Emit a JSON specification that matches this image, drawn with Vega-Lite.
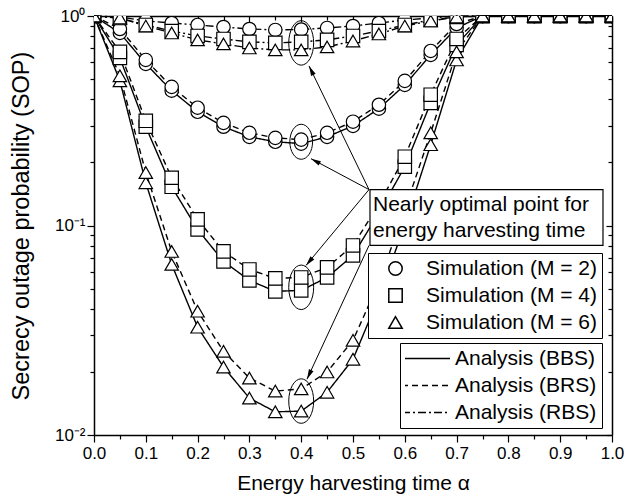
{
"$schema":"https://vega.github.io/schema/vega-lite/v6.json",
"width":518,"height":419,
"autosize":{"type":"none"},
"padding":{"left":94,"top":16,"right":14,"bottom":66},
"background":"white",
"config":{"view":{"stroke":null},"font":"Liberation Sans",
 "axis":{"grid":false,"domainColor":"black","domainWidth":1.5,"tickColor":"black","tickWidth":1.2,"labelColor":"black","titleColor":"black","labelFont":"Liberation Sans","titleFont":"Liberation Sans","titleFontWeight":"normal","labelFontSize":17,"titleFontSize":21,"labelFlush":false,"labelOverlap":false,"labelBound":false},
 "legend":{"labelFont":"Liberation Sans","labelFontSize":21,"labelColor":"black","labelLimit":0}},
"datasets":{
"sop":[
{"a":0,"p":1,"m":"2","s":"BBS"},{"a":0.05,"p":0.830,"m":"2","s":"BBS"},{"a":0.1,"p":0.591,"m":"2","s":"BBS"},{"a":0.15,"p":0.440,"m":"2","s":"BBS"},{"a":0.2,"p":0.349,"m":"2","s":"BBS"},{"a":0.25,"p":0.296,"m":"2","s":"BBS"},{"a":0.3,"p":0.265,"m":"2","s":"BBS"},{"a":0.35,"p":0.251,"m":"2","s":"BBS"},{"a":0.4,"p":0.246,"m":"2","s":"BBS"},{"a":0.45,"p":0.265,"m":"2","s":"BBS"},{"a":0.5,"p":0.299,"m":"2","s":"BBS"},{"a":0.55,"p":0.361,"m":"2","s":"BBS"},{"a":0.6,"p":0.469,"m":"2","s":"BBS"},{"a":0.65,"p":0.652,"m":"2","s":"BBS"},{"a":0.7,"p":0.877,"m":"2","s":"BBS"},{"a":0.75,"p":1,"m":"2","s":"BBS"},{"a":0.8,"p":1,"m":"2","s":"BBS"},{"a":0.85,"p":1,"m":"2","s":"BBS"},{"a":0.9,"p":1,"m":"2","s":"BBS"},{"a":0.95,"p":1,"m":"2","s":"BBS"},{"a":1,"p":1,"m":"2","s":"BBS"},
{"a":0,"p":1,"m":"2","s":"BRS"},{"a":0.05,"p":0.867,"m":"2","s":"BRS"},{"a":0.1,"p":0.617,"m":"2","s":"BRS"},{"a":0.15,"p":0.459,"m":"2","s":"BRS"},{"a":0.2,"p":0.365,"m":"2","s":"BRS"},{"a":0.25,"p":0.309,"m":"2","s":"BRS"},{"a":0.3,"p":0.277,"m":"2","s":"BRS"},{"a":0.35,"p":0.262,"m":"2","s":"BRS"},{"a":0.4,"p":0.257,"m":"2","s":"BRS"},{"a":0.45,"p":0.277,"m":"2","s":"BRS"},{"a":0.5,"p":0.313,"m":"2","s":"BRS"},{"a":0.55,"p":0.377,"m":"2","s":"BRS"},{"a":0.6,"p":0.490,"m":"2","s":"BRS"},{"a":0.65,"p":0.681,"m":"2","s":"BRS"},{"a":0.7,"p":0.916,"m":"2","s":"BRS"},{"a":0.75,"p":1,"m":"2","s":"BRS"},{"a":0.8,"p":1,"m":"2","s":"BRS"},{"a":0.85,"p":1,"m":"2","s":"BRS"},{"a":0.9,"p":1,"m":"2","s":"BRS"},{"a":0.95,"p":1,"m":"2","s":"BRS"},{"a":1,"p":1,"m":"2","s":"BRS"},
{"a":0,"p":1,"m":"2","s":"RBS"},{"a":0.05,"p":0.989,"m":"2","s":"RBS"},{"a":0.1,"p":0.947,"m":"2","s":"RBS"},{"a":0.15,"p":0.926,"m":"2","s":"RBS"},{"a":0.2,"p":0.906,"m":"2","s":"RBS"},{"a":0.25,"p":0.886,"m":"2","s":"RBS"},{"a":0.3,"p":0.867,"m":"2","s":"RBS"},{"a":0.35,"p":0.858,"m":"2","s":"RBS"},{"a":0.4,"p":0.862,"m":"2","s":"RBS"},{"a":0.45,"p":0.877,"m":"2","s":"RBS"},{"a":0.5,"p":0.896,"m":"2","s":"RBS"},{"a":0.55,"p":0.926,"m":"2","s":"RBS"},{"a":0.6,"p":0.957,"m":"2","s":"RBS"},{"a":0.65,"p":0.978,"m":"2","s":"RBS"},{"a":0.7,"p":1,"m":"2","s":"RBS"},{"a":0.75,"p":1,"m":"2","s":"RBS"},{"a":0.8,"p":1,"m":"2","s":"RBS"},{"a":0.85,"p":1,"m":"2","s":"RBS"},{"a":0.9,"p":1,"m":"2","s":"RBS"},{"a":0.95,"p":1,"m":"2","s":"RBS"},{"a":1,"p":1,"m":"2","s":"RBS"},
{"a":0,"p":1,"m":"4","s":"BBS"},{"a":0.05,"p":0.631,"m":"4","s":"BBS"},{"a":0.1,"p":0.296,"m":"4","s":"BBS"},{"a":0.15,"p":0.153,"m":"4","s":"BBS"},{"a":0.2,"p":0.0957,"m":"4","s":"BBS"},{"a":0.25,"p":0.0674,"m":"4","s":"BBS"},{"a":0.3,"p":0.0547,"m":"4","s":"BBS"},{"a":0.35,"p":0.0485,"m":"4","s":"BBS"},{"a":0.4,"p":0.0490,"m":"4","s":"BBS"},{"a":0.45,"p":0.0565,"m":"4","s":"BBS"},{"a":0.5,"p":0.0720,"m":"4","s":"BBS"},{"a":0.55,"p":0.115,"m":"4","s":"BBS"},{"a":0.6,"p":0.191,"m":"4","s":"BBS"},{"a":0.65,"p":0.385,"m":"4","s":"BBS"},{"a":0.7,"p":0.727,"m":"4","s":"BBS"},{"a":0.75,"p":1,"m":"4","s":"BBS"},{"a":0.8,"p":1,"m":"4","s":"BBS"},{"a":0.85,"p":1,"m":"4","s":"BBS"},{"a":0.9,"p":1,"m":"4","s":"BBS"},{"a":0.95,"p":1,"m":"4","s":"BBS"},{"a":1,"p":1,"m":"4","s":"BBS"},
{"a":0,"p":1,"m":"4","s":"BRS"},{"a":0.05,"p":0.674,"m":"4","s":"BRS"},{"a":0.1,"p":0.316,"m":"4","s":"BRS"},{"a":0.15,"p":0.169,"m":"4","s":"BRS"},{"a":0.2,"p":0.107,"m":"4","s":"BRS"},{"a":0.25,"p":0.0752,"m":"4","s":"BRS"},{"a":0.3,"p":0.0617,"m":"4","s":"BRS"},{"a":0.35,"p":0.0559,"m":"4","s":"BRS"},{"a":0.4,"p":0.0565,"m":"4","s":"BRS"},{"a":0.45,"p":0.0631,"m":"4","s":"BRS"},{"a":0.5,"p":0.0803,"m":"4","s":"BRS"},{"a":0.55,"p":0.126,"m":"4","s":"BRS"},{"a":0.6,"p":0.213,"m":"4","s":"BRS"},{"a":0.65,"p":0.421,"m":"4","s":"BRS"},{"a":0.7,"p":0.777,"m":"4","s":"BRS"},{"a":0.75,"p":1,"m":"4","s":"BRS"},{"a":0.8,"p":1,"m":"4","s":"BRS"},{"a":0.85,"p":1,"m":"4","s":"BRS"},{"a":0.9,"p":1,"m":"4","s":"BRS"},{"a":0.95,"p":1,"m":"4","s":"BRS"},{"a":1,"p":1,"m":"4","s":"BRS"},
{"a":0,"p":1,"m":"4","s":"RBS"},{"a":0.05,"p":0.978,"m":"4","s":"RBS"},{"a":0.1,"p":0.906,"m":"4","s":"RBS"},{"a":0.15,"p":0.848,"m":"4","s":"RBS"},{"a":0.2,"p":0.803,"m":"4","s":"RBS"},{"a":0.25,"p":0.777,"m":"4","s":"RBS"},{"a":0.3,"p":0.752,"m":"4","s":"RBS"},{"a":0.35,"p":0.744,"m":"4","s":"RBS"},{"a":0.4,"p":0.752,"m":"4","s":"RBS"},{"a":0.45,"p":0.769,"m":"4","s":"RBS"},{"a":0.5,"p":0.803,"m":"4","s":"RBS"},{"a":0.55,"p":0.848,"m":"4","s":"RBS"},{"a":0.6,"p":0.906,"m":"4","s":"RBS"},{"a":0.65,"p":0.957,"m":"4","s":"RBS"},{"a":0.7,"p":0.989,"m":"4","s":"RBS"},{"a":0.75,"p":1,"m":"4","s":"RBS"},{"a":0.8,"p":1,"m":"4","s":"RBS"},{"a":0.85,"p":1,"m":"4","s":"RBS"},{"a":0.9,"p":1,"m":"4","s":"RBS"},{"a":0.95,"p":1,"m":"4","s":"RBS"},{"a":1,"p":1,"m":"4","s":"RBS"},
{"a":0,"p":1,"m":"6","s":"BBS"},{"a":0.05,"p":0.490,"m":"6","s":"BBS"},{"a":0.1,"p":0.160,"m":"6","s":"BBS"},{"a":0.15,"p":0.0652,"m":"6","s":"BBS"},{"a":0.2,"p":0.0327,"m":"6","s":"BBS"},{"a":0.25,"p":0.0211,"m":"6","s":"BBS"},{"a":0.3,"p":0.0150,"m":"6","s":"BBS"},{"a":0.35,"p":0.0129,"m":"6","s":"BBS"},{"a":0.4,"p":0.0130,"m":"6","s":"BBS"},{"a":0.45,"p":0.0160,"m":"6","s":"BBS"},{"a":0.5,"p":0.0230,"m":"6","s":"BBS"},{"a":0.55,"p":0.0454,"m":"6","s":"BBS"},{"a":0.6,"p":0.101,"m":"6","s":"BBS"},{"a":0.65,"p":0.243,"m":"6","s":"BBS"},{"a":0.7,"p":0.617,"m":"6","s":"BBS"},{"a":0.75,"p":1,"m":"6","s":"BBS"},{"a":0.8,"p":1,"m":"6","s":"BBS"},{"a":0.85,"p":1,"m":"6","s":"BBS"},{"a":0.9,"p":1,"m":"6","s":"BBS"},{"a":0.95,"p":1,"m":"6","s":"BBS"},{"a":1,"p":1,"m":"6","s":"BBS"},
{"a":0,"p":1,"m":"6","s":"BRS"},{"a":0.05,"p":0.518,"m":"6","s":"BRS"},{"a":0.1,"p":0.179,"m":"6","s":"BRS"},{"a":0.15,"p":0.0752,"m":"6","s":"BRS"},{"a":0.2,"p":0.0390,"m":"6","s":"BRS"},{"a":0.25,"p":0.0251,"m":"6","s":"BRS"},{"a":0.3,"p":0.0187,"m":"6","s":"BRS"},{"a":0.35,"p":0.0162,"m":"6","s":"BRS"},{"a":0.4,"p":0.0166,"m":"6","s":"BRS"},{"a":0.45,"p":0.0200,"m":"6","s":"BRS"},{"a":0.5,"p":0.0283,"m":"6","s":"BRS"},{"a":0.55,"p":0.0535,"m":"6","s":"BRS"},{"a":0.6,"p":0.119,"m":"6","s":"BRS"},{"a":0.65,"p":0.277,"m":"6","s":"BRS"},{"a":0.7,"p":0.674,"m":"6","s":"BRS"},{"a":0.75,"p":1,"m":"6","s":"BRS"},{"a":0.8,"p":1,"m":"6","s":"BRS"},{"a":0.85,"p":1,"m":"6","s":"BRS"},{"a":0.9,"p":1,"m":"6","s":"BRS"},{"a":0.95,"p":1,"m":"6","s":"BRS"},{"a":1,"p":1,"m":"6","s":"BRS"},
{"a":0,"p":1,"m":"6","s":"RBS"},{"a":0.05,"p":0.978,"m":"6","s":"RBS"},{"a":0.1,"p":0.896,"m":"6","s":"RBS"},{"a":0.15,"p":0.830,"m":"6","s":"RBS"},{"a":0.2,"p":0.769,"m":"6","s":"RBS"},{"a":0.25,"p":0.736,"m":"6","s":"RBS"},{"a":0.3,"p":0.704,"m":"6","s":"RBS"},{"a":0.35,"p":0.689,"m":"6","s":"RBS"},{"a":0.4,"p":0.689,"m":"6","s":"RBS"},{"a":0.45,"p":0.712,"m":"6","s":"RBS"},{"a":0.5,"p":0.760,"m":"6","s":"RBS"},{"a":0.55,"p":0.821,"m":"6","s":"RBS"},{"a":0.6,"p":0.896,"m":"6","s":"RBS"},{"a":0.65,"p":0.947,"m":"6","s":"RBS"},{"a":0.7,"p":0.989,"m":"6","s":"RBS"},{"a":0.75,"p":1,"m":"6","s":"RBS"},{"a":0.8,"p":1,"m":"6","s":"RBS"},{"a":0.85,"p":1,"m":"6","s":"RBS"},{"a":0.9,"p":1,"m":"6","s":"RBS"},{"a":0.95,"p":1,"m":"6","s":"RBS"},{"a":1,"p":1,"m":"6","s":"RBS"}
]},
"layer":[
{"data":{"name":"sop"},
 "mark":{"type":"line","color":"black","strokeWidth":1.4},
 "encoding":{
  "x":{"field":"a","type":"quantitative","scale":{"domain":[0,1],"nice":false},
   "axis":{"orient":"bottom","values":[0,0.05,0.1,0.15,0.2,0.25,0.3,0.35,0.4,0.45,0.5,0.55,0.6,0.65,0.7,0.75,0.8,0.85,0.9,0.95,1],
    "labelExpr":"abs(datum.value*10-round(datum.value*10))<0.001 ? format(datum.value,'.1f') : ''",
    "tickSize":{"condition":{"test":"abs(datum.value*10-round(datum.value*10))<0.001","value":7},"value":4},
    "labelPadding":3,"title":"Energy harvesting time α","titleX":259,"titleY":48,"titleAlign":"center","titleBaseline":"middle"}},
  "y":{"field":"p","type":"quantitative","scale":{"type":"log","domain":[0.01,1],"nice":false},
   "axis":{"orient":"left","values":[0.01,0.02,0.03,0.04,0.05,0.06,0.07,0.08,0.09,0.1,0.2,0.3,0.4,0.5,0.6,0.7,0.8,0.9,1],
    "labelExpr":"datum.value==1 ? '10⁰' : datum.value==0.1 ? '10⁻¹' : datum.value==0.01 ? '10⁻²' : ''",
    "tickSize":{"condition":{"test":"datum.value==1||datum.value==0.1||datum.value==0.01","value":7},"value":4},
    "labelPadding":2,"title":"Secrecy outage probability (SOP)","titleFontSize":23.5,"titleX":-73,"titleY":209.5,"titleAngle":270,"titleAlign":"center","titleBaseline":"middle"}},
  "detail":[{"field":"m"},{"field":"s"}],
  "strokeDash":{"field":"s","type":"nominal","scale":{"domain":["BBS","BRS","RBS"],"range":[[1,0],[6,4],[8,3,2,3]]},
   "legend":{"orient":"none","legendX":306,"legendY":327,"title":null,"padding":5,"symbolType":"stroke","symbolSize":2304,"symbolStrokeWidth":1.5,"symbolStrokeColor":"black","symbolOffset":-4,"labelOffset":4,"rowPadding":5,"clipHeight":21,"strokeColor":"black","fillColor":"white","labelExpr":"'Analysis (' + datum.label + ')'"}}
 }},
{"data":{"name":"sop"},
 "mark":{"type":"point","filled":true,"fill":"white","stroke":"black","strokeWidth":1.2,"opacity":1,"size":180,"clip":true},
 "encoding":{
  "x":{"field":"a","type":"quantitative","axis":{"orient":"top","values":[0,0.05,0.1,0.15,0.2,0.25,0.3,0.35,0.4,0.45,0.5,0.55,0.6,0.65,0.7,0.75,0.8,0.85,0.9,0.95,1],"labels":false,"title":null,
    "tickSize":{"condition":{"test":"abs(datum.value*10-round(datum.value*10))<0.001","value":-6},"value":-4}}},
  "y":{"field":"p","type":"quantitative","axis":{"orient":"right","values":[0.01,0.02,0.03,0.04,0.05,0.06,0.07,0.08,0.09,0.1,0.2,0.3,0.4,0.5,0.6,0.7,0.8,0.9,1],"labels":false,"title":null,
    "tickSize":{"condition":{"test":"datum.value==1||datum.value==0.1||datum.value==0.01","value":-6},"value":-4}}},
  "shape":{"field":"m","type":"nominal","scale":{"domain":["2","4","6"],"range":["circle","square","triangle-up"]},
   "legend":{"orient":"none","legendX":274,"legendY":237,"title":null,"padding":5,"symbolSize":180,"symbolOffset":12,"labelOffset":20,"rowPadding":5,"strokeColor":"black","fillColor":"white","labelExpr":"'Simulation (M = ' + datum.label + ')'"}}
 }},
{"data":{"values":[{"a":0.4,"p":0.744},{"a":0.4,"p":0.0507},{"a":0.4,"p":0.01452}]},
 "mark":{"type":"point","shape":"M0,-1A0.56,1,0,1,0,0,1A0.56,1,0,1,0,0,-1Z","size":1980,"filled":false,"color":"black","strokeWidth":1,"opacity":1},
 "encoding":{"x":{"field":"a","type":"quantitative","axis":null},"y":{"field":"p","type":"quantitative","axis":null}}},
{"data":{"values":[{"a":0.4,"p":0.251}]},
 "mark":{"type":"point","shape":"M0,-1A0.65,1,0,1,0,0,1A0.65,1,0,1,0,0,-1Z","size":1225,"filled":false,"color":"black","strokeWidth":1,"opacity":1},
 "encoding":{"x":{"field":"a","type":"quantitative","axis":null},"y":{"field":"p","type":"quantitative","axis":null}}},
{"data":{"values":[
  {"a":0.5309,"p":0.1484,"a2":0.4151,"p2":0.578},
  {"a":0.5309,"p":0.1484,"a2":0.4189,"p2":0.2085},
  {"a":0.5309,"p":0.1484,"a2":0.4093,"p2":0.0645},
  {"a":0.5309,"p":0.0803,"a2":0.4112,"p2":0.01848}]},
 "mark":{"type":"rule","color":"black","strokeWidth":1},
 "encoding":{"x":{"field":"a","type":"quantitative","axis":null},"y":{"field":"p","type":"quantitative","axis":null},"x2":{"field":"a2"},"y2":{"field":"p2"}}},
{"data":{"values":[{"a":0.4193,"p":0.550}]},
 "mark":{"type":"point","shape":"M0,-1L0.5,1L-0.5,1Z","size":100,"angle":334.2,"filled":true,"color":"black","opacity":1},
 "encoding":{"x":{"field":"a","type":"quantitative","axis":null},"y":{"field":"p","type":"quantitative","axis":null}}},
{"data":{"values":[{"a":0.4274,"p":0.2031}]},
 "mark":{"type":"point","shape":"M0,-1L0.5,1L-0.5,1Z","size":100,"angle":298.2,"filled":true,"color":"black","opacity":1},
 "encoding":{"x":{"field":"a","type":"quantitative","axis":null},"y":{"field":"p","type":"quantitative","axis":null}}},
{"data":{"values":[{"a":0.4154,"p":0.0672}]},
 "mark":{"type":"point","shape":"M0,-1L0.5,1L-0.5,1Z","size":100,"angle":219.6,"filled":true,"color":"black","opacity":1},
 "encoding":{"x":{"field":"a","type":"quantitative","axis":null},"y":{"field":"p","type":"quantitative","axis":null}}},
{"data":{"values":[{"a":0.4153,"p":0.01941}]},
 "mark":{"type":"point","shape":"M0,-1L0.5,1L-0.5,1Z","size":100,"angle":204.8,"filled":true,"color":"black","opacity":1},
 "encoding":{"x":{"field":"a","type":"quantitative","axis":null},"y":{"field":"p","type":"quantitative","axis":null}}},
{"data":{"values":[{"a":0.5328,"a2":0.9826,"p":0.1484,"p2":0.0803}]},
 "mark":{"type":"rect","fill":"white","stroke":"black","strokeWidth":1.2},
 "encoding":{"x":{"field":"a","type":"quantitative","axis":null},"x2":{"field":"a2"},"y":{"field":"p","type":"quantitative","axis":null},"y2":{"field":"p2"}}},
{"data":{"values":[{"a":0.5386,"p":0.1173,"t":"Nearly optimal point for"},{"a":0.5386,"p":0.0884,"t":"energy harvesting time"}]},
 "mark":{"type":"text","align":"left","baseline":"alphabetic","font":"Liberation Sans","fontSize":21,"color":"black"},
 "encoding":{"x":{"field":"a","type":"quantitative","axis":null},"y":{"field":"p","type":"quantitative","axis":null},"text":{"field":"t"}}}
],
"resolve":{"axis":{"x":"independent","y":"independent"}}
}
